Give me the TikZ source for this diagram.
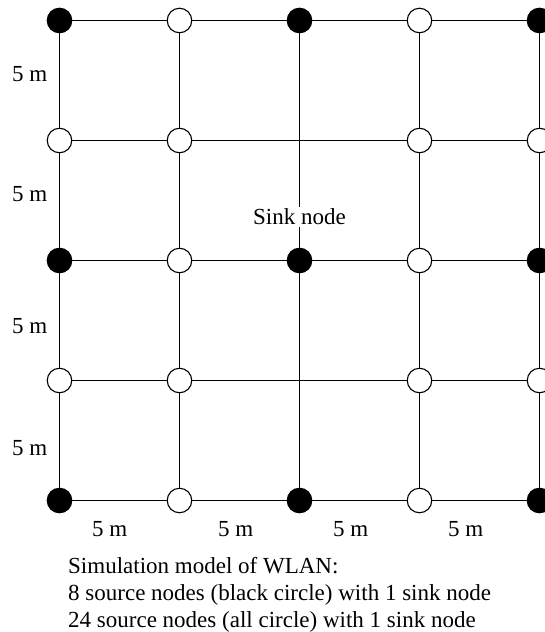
\documentclass[tikz,border=0pt]{standalone}
\usepackage{fontspec}
\setmainfont{Liberation Serif}
\begin{document}
\begin{tikzpicture}[x=1pt,y=-1pt,
  station/.style={circle,draw=black,line width=1.1pt,minimum size=24.5pt,inner sep=0pt},
  source/.style={station,fill=black},
  relay/.style={station,fill=white},
  link/.style={line width=1.1pt},
  dist/.style={font=\fontsize{23}{27}\selectfont,anchor=base west,inner sep=0pt},
  caption/.style={font=\fontsize{23}{27}\selectfont,anchor=base west,inner sep=0pt}]
\useasboundingbox (0,0) rectangle (545,632);
\clip (0,0) rectangle (545,632);
% 5 x 5 grid: black stations on even rows and columns,
% bare crossings at the middle column's odd rows
\foreach \c in {0,...,4}{
  \foreach \r in {0,...,4}{
    \pgfmathtruncatemacro{\blk}{(mod(\c,2)==0 && mod(\r,2)==0) ? 1 : 0}
    \pgfmathtruncatemacro{\bare}{(\c==2 && mod(\r,2)==1) ? 1 : 0}
    \ifnum\bare=1
      \coordinate (n-\c-\r) at ({59.5+120*\c},{20.5+120*\r});
    \else\ifnum\blk=1
      \node[source] (n-\c-\r) at ({59.5+120*\c},{20.5+120*\r}) {};
    \else
      \node[relay] (n-\c-\r) at ({59.5+120*\c},{20.5+120*\r}) {};
    \fi\fi
  }
}
% sink label on the middle column
\node[font=\fontsize{23}{27}\selectfont,fill=white,inner sep=2pt] (sink) at (299.5,217) {Sink node};
% horizontal links
\foreach \r in {0,...,4}{
  \foreach \c [evaluate=\c as \d using int(\c+1)] in {0,...,3}{
    \draw[link] (n-\c-\r) -- (n-\d-\r);
  }
}
% vertical links
\foreach \c in {0,1,3,4}{
  \foreach \r [evaluate=\r as \s using int(\r+1)] in {0,...,3}{
    \draw[link] (n-\c-\r) -- (n-\c-\s);
  }
}
\draw[link] (n-2-0) -- (n-2-1);
\draw[link] (n-2-1) -- (sink);
\draw[link] (sink) -- (n-2-2);
\draw[link] (n-2-2) -- (n-2-3);
\draw[link] (n-2-3) -- (n-2-4);
% spacing labels
\node[dist] (v1) at (12,81) {5 m};
\node[dist] (v2) at (12,201) {5 m};
\node[dist] (v3) at (12,333) {5 m};
\node[dist] (v4) at (12,455) {5 m};
\node[dist] (h1) at (92,536) {5 m};
\node[dist] (h2) at (218,536) {5 m};
\node[dist] (h3) at (333,536) {5 m};
\node[dist] (h4) at (448,536) {5 m};
% caption
\node[caption] (cap1) at (68,573.5) {Simulation model of WLAN:};
\node[caption] (cap2) at (68,600.5) {8 source nodes (black circle) with 1 sink node};
\node[caption] (cap3) at (68,627) {24 source nodes (all circle) with 1 sink node};
\end{tikzpicture}
\end{document}
